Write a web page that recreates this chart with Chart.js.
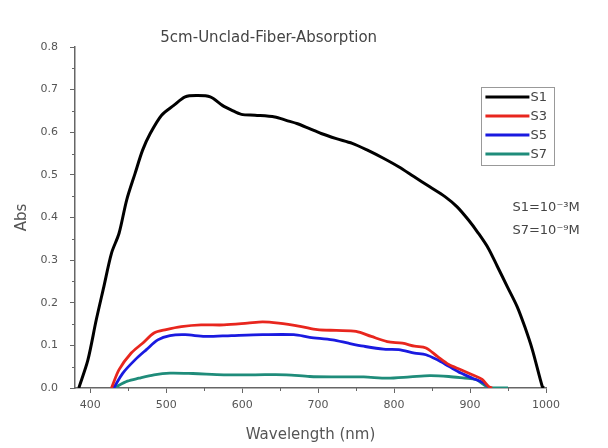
<!DOCTYPE html>
<html>
<head>
<meta charset="utf-8">
<script src="https://cdn.jsdelivr.net/npm/chart.js@4"></script>
<style>
  html, body { margin: 0; padding: 0; background: #fff; }
  #wrap { width: 608px; height: 448px; }
</style>
</head>
<body>
<div id="wrap"><canvas id="absChart" width="608" height="448"></canvas></div>
<script>
// ========================
// 5cm unclad fiber absorption
// ========================

const seriesNames = ['S1', 'S3', 'S5', 'S7'];
const seriesColors = ['#000000', '#e8261e', '#1a1ae0', '#1f8c7a'];

const s1Wave = [385, 397, 408, 418, 428, 438, 448, 459, 469, 479, 494, 510, 525, 540, 558, 574, 586, 599, 617, 643, 658, 673, 688, 704, 724, 745, 765, 786, 806, 826, 847, 867, 883, 898, 911, 924, 936, 949, 962, 972, 982, 995, 997];
const s1Abs  = [0.0, 0.066, 0.16, 0.238, 0.316, 0.363, 0.441, 0.503, 0.558, 0.597, 0.64, 0.663, 0.683, 0.686, 0.683, 0.663, 0.652, 0.642, 0.64, 0.636, 0.628, 0.62, 0.609, 0.597, 0.585, 0.574, 0.558, 0.539, 0.519, 0.496, 0.472, 0.449, 0.425, 0.394, 0.363, 0.328, 0.285, 0.238, 0.191, 0.144, 0.09, 0.004, 0.0];

const s3Wave = [428, 438, 454, 469, 484, 500, 520, 546, 576, 607, 627, 648, 678, 699, 724, 750, 770, 791, 811, 827, 842, 857, 872, 888, 903, 916, 924, 929];
const s3Abs  = [0.0, 0.043, 0.082, 0.105, 0.129, 0.137, 0.144, 0.148, 0.148, 0.152, 0.155, 0.152, 0.144, 0.137, 0.135, 0.133, 0.121, 0.109, 0.105, 0.098, 0.094, 0.074, 0.055, 0.043, 0.031, 0.02, 0.004, 0.0];

const s5Wave = [431, 443, 459, 474, 489, 505, 525, 551, 586, 627, 668, 689, 719, 740, 760, 786, 806, 827, 842, 857, 872, 888, 903, 918, 926];
const s5Abs  = [0.0, 0.035, 0.066, 0.09, 0.113, 0.123, 0.125, 0.121, 0.123, 0.125, 0.125, 0.119, 0.113, 0.105, 0.098, 0.091, 0.09, 0.082, 0.078, 0.066, 0.051, 0.035, 0.023, 0.012, 0.0];

const s7Wave = [433, 449, 464, 484, 505, 535, 576, 617, 658, 689, 719, 760, 791, 821, 847, 872, 893, 908, 918, 926, 950];
const s7Abs  = [0.002, 0.016, 0.023, 0.031, 0.035, 0.034, 0.031, 0.031, 0.031, 0.027, 0.026, 0.026, 0.023, 0.026, 0.029, 0.027, 0.023, 0.02, 0.008, 0.0, 0.0];

const xTicks = [400, 500, 600, 700, 800, 900, 1000];
const xMinorTicks = [450, 550, 650, 750, 850, 950];
const yTicks = [0.0, 0.1, 0.2, 0.3, 0.4, 0.5, 0.6, 0.7, 0.8];
const yMinorTicks = [0.05, 0.15, 0.25, 0.35, 0.45, 0.55, 0.65, 0.75];

const chartTitle = '5cm-Unclad-Fiber-Absorption';
const noteLines = ['S1=10\u207B\u00B3M', 'S7=10\u207B\u2079M'];

const toPoints = (xs, ys) => xs.map((x, i) => ({ x: x, y: ys[i] }));
const allWave = [s1Wave, s3Wave, s5Wave, s7Wave];
const allAbs = [s1Abs, s3Abs, s5Abs, s7Abs];

const textColor = '#555';
const axisColor = '#666';
const fontFamily = '"DejaVu Sans", Verdana, sans-serif';

// minor ticks, title, legend box and the note on the right
const extras = {
    id: 'extras',
    afterDraw(chart) {
        const ctx = chart.ctx;
        const area = chart.chartArea;
        const xs = chart.scales.x;
        const ys = chart.scales.y;
        ctx.save();
        ctx.strokeStyle = axisColor;
        ctx.lineWidth = 1;
        xMinorTicks.forEach(v => {
            const px = Math.round(xs.getPixelForValue(v)) + 0.5;
            ctx.beginPath();
            ctx.moveTo(px, area.bottom);
            ctx.lineTo(px, area.bottom + 3);
            ctx.stroke();
        });
        yMinorTicks.forEach(v => {
            const py = Math.round(ys.getPixelForValue(v)) + 0.5;
            ctx.beginPath();
            ctx.moveTo(area.left, py);
            ctx.lineTo(area.left - 3, py);
            ctx.stroke();
        });

        // title
        ctx.fillStyle = '#444';
        ctx.font = '15px ' + fontFamily;
        ctx.textAlign = 'center';
        ctx.textBaseline = 'middle';
        ctx.fillText(chartTitle, xs.getPixelForValue(635), ys.getPixelForValue(0.822));

        // legend
        const lx = xs.getPixelForValue(915);
        const ly = ys.getPixelForValue(0.706);
        const lw = 73, lh = 78;
        ctx.strokeStyle = '#999';
        ctx.strokeRect(Math.round(lx) + 0.5, Math.round(ly) + 0.5, lw, lh);
        ctx.font = '13px ' + fontFamily;
        ctx.textAlign = 'left';
        chart.data.datasets.forEach((ds, i) => {
            const yy = ly + 10 + i * 19;
            ctx.strokeStyle = ds.borderColor;
            ctx.lineWidth = 3;
            ctx.beginPath();
            ctx.moveTo(lx + 4, yy);
            ctx.lineTo(lx + 48, yy);
            ctx.stroke();
            ctx.fillStyle = '#444';
            ctx.fillText(ds.label, lx + 49, yy + 1);
        });

        // note
        ctx.font = '13px ' + fontFamily;
        ctx.fillStyle = '#444';
        noteLines.forEach((t, i) => {
            ctx.fillText(t, lx + 31, ys.getPixelForValue(0.4225) + i * 23);
        });
        ctx.restore();
    }
};

const config = {
    type: 'line',
    data: {
        datasets: seriesNames.map((name, i) => ({
            label: name,
            data: toPoints(allWave[i], allAbs[i]),
            borderColor: seriesColors[i],
            backgroundColor: seriesColors[i],
            borderWidth: i === 0 ? 3 : 2.8,
            pointRadius: 0,
            tension: 0.3,
            fill: false
        }))
    },
    options: {
        responsive: false,
        animation: false,
        layout: { padding: { left: 0, right: 62, top: 47, bottom: 0 } },
        plugins: {
            legend: { display: false },
            title: { display: false },
            tooltip: { enabled: false }
        },
        scales: {
            x: {
                type: 'linear',
                min: 380,
                max: 1000,
                afterBuildTicks: s => { s.ticks = xTicks.map(v => ({ value: v })); },
                afterFit: s => { s.height = 60; },
                grid: { drawOnChartArea: false, color: axisColor, tickLength: 5 },
                border: { color: axisColor, width: 1.5 },
                ticks: { color: textColor, font: { size: 11, family: fontFamily }, padding: 6, maxRotation: 0, callback: v => String(v) },
                title: { display: true, text: 'Wavelength (nm)', color: textColor, font: { size: 15, family: fontFamily }, padding: { top: 5 } }
            },
            y: {
                min: 0,
                max: 0.8,
                afterBuildTicks: s => { s.ticks = yTicks.map(v => ({ value: v })); },
                afterFit: s => { s.width = 75; },
                grid: { drawOnChartArea: false, color: axisColor, tickLength: 5 },
                border: { color: axisColor, width: 1.5 },
                ticks: { color: textColor, font: { size: 11, family: fontFamily }, padding: 12, callback: v => v.toFixed(1) },
                title: { display: true, text: 'Abs', color: textColor, font: { size: 15, family: fontFamily }, padding: { top: 13, bottom: 0 } }
            }
        }
    },
    plugins: [extras]
};

window.addEventListener('DOMContentLoaded', () => {
    const ctx = document.getElementById('absChart').getContext('2d');
    new Chart(ctx, config);
});
</script>
</body>
</html>
